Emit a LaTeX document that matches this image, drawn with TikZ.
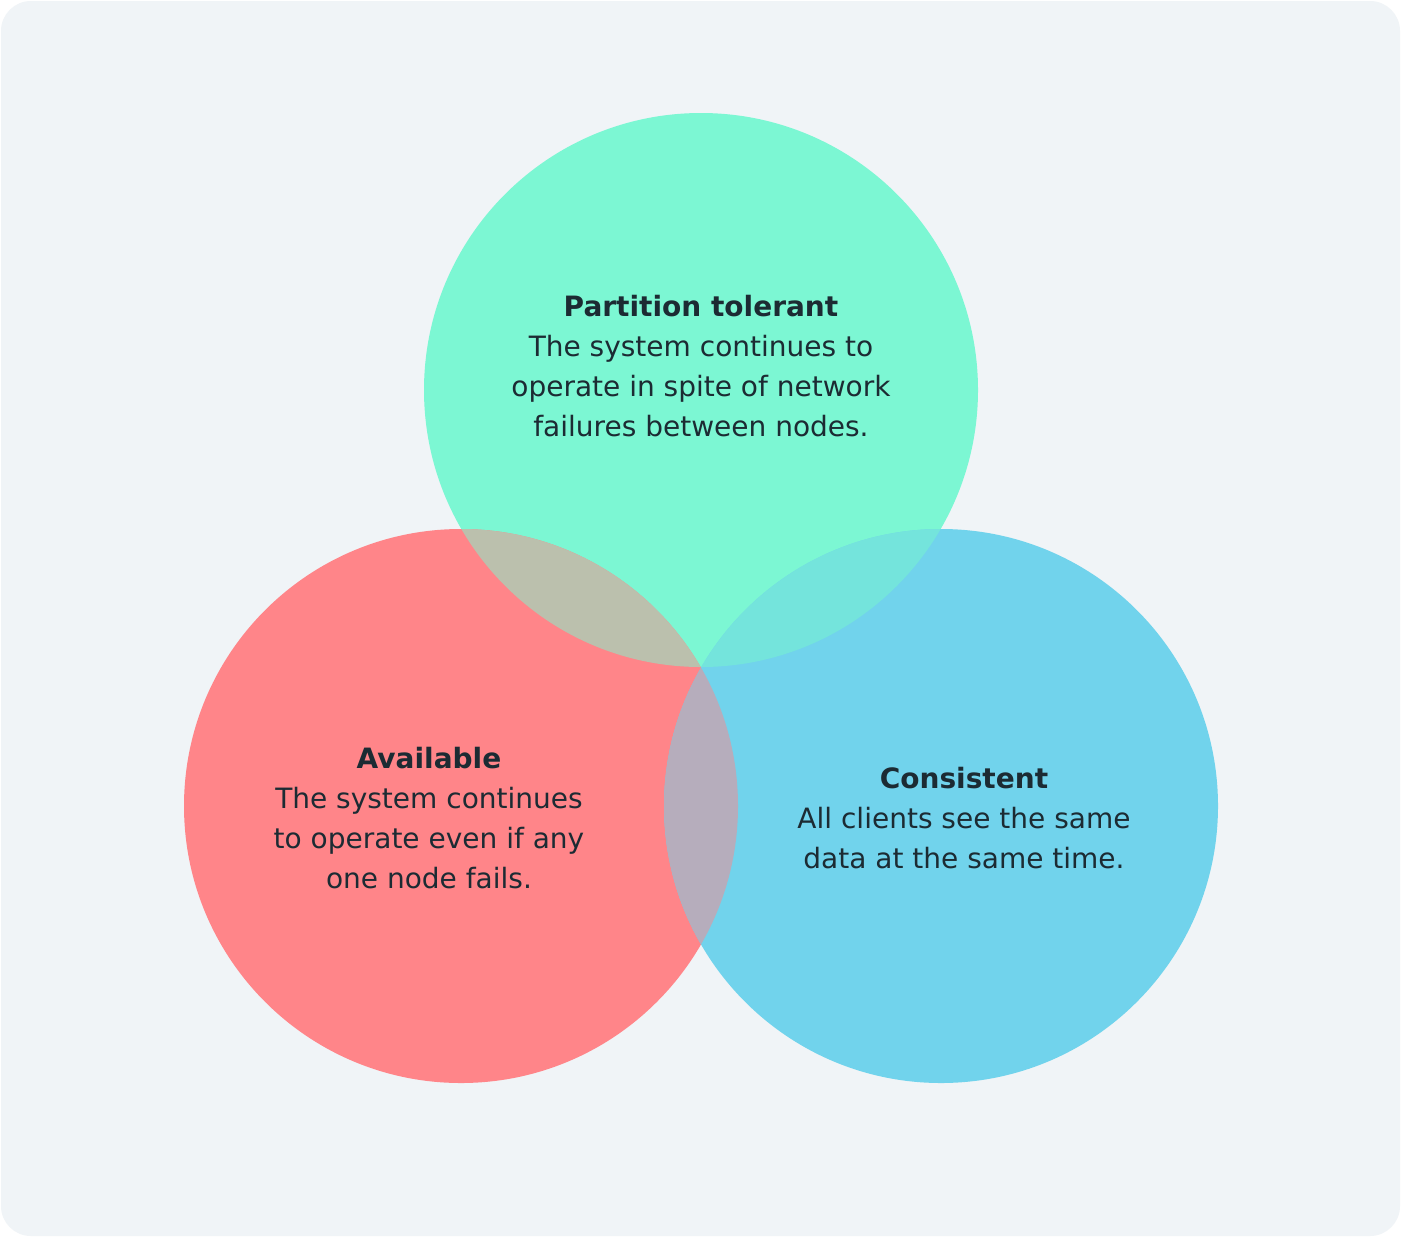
\documentclass[tikz,border=0pt]{standalone}
\usepackage{fontspec}
\setmainfont{DejaVu Sans}
\usepackage{tikz}
\usetikzlibrary{positioning}
\definecolor{capBg}{HTML}{F0F4F7}
\definecolor{capGreen}{HTML}{7CF7D3}
\definecolor{capRed}{HTML}{FF8589}
\definecolor{capBlue}{HTML}{71D3EC}
\definecolor{capRG}{HTML}{BBC0AD}
\definecolor{capGB}{HTML}{74E4DC}
\definecolor{capRB}{HTML}{B6ADBC}
\definecolor{capText}{HTML}{1C2B33}

\begin{document}
\begin{tikzpicture}[
    x=0.5pt, y=-0.5pt,
    setcircle/.style={circle, minimum size=277pt, inner sep=0pt},
    desc/.style={align=center, text=capText, font=\fontsize{14}{20}\selectfont},
]
    \useasboundingbox (0,0) rectangle (1401,1237);
    \fill[white] (0,0) rectangle (1401,1237);
    \fill[capBg, rounded corners=15pt] (1,1) rectangle (1400,1236);

    % Sets
    \node[setcircle, fill=capGreen] (part) at (701,390) {};
    \node[setcircle, fill=capRed] (avail) at (461,806) {};
    \node[setcircle, fill=capBlue] (cons) at (941,806) {};

    % Overlaps
    \begin{scope}
        \clip (part.center) circle[radius=277];
        \fill[capRG] (avail.center) circle[radius=277];
        \fill[capGB] (cons.center) circle[radius=277];
    \end{scope}
    \begin{scope}
        \clip (avail.center) circle[radius=277];
        \fill[capRB] (cons.center) circle[radius=277];
    \end{scope}

    % Labels
    \node[desc] (partText) at (701,366) {\textbf{Partition tolerant}\\The system continues to\\operate in spite of network\\failures between nodes.};
    \node[desc] (availText) at (429,818) {\textbf{Available}\\The system continues\\to operate even if any\\one node fails.};
    \node[desc] (consText) at (964,818) {\textbf{Consistent}\\All clients see the same\\data at the same time.};
\end{tikzpicture}
\end{document}
